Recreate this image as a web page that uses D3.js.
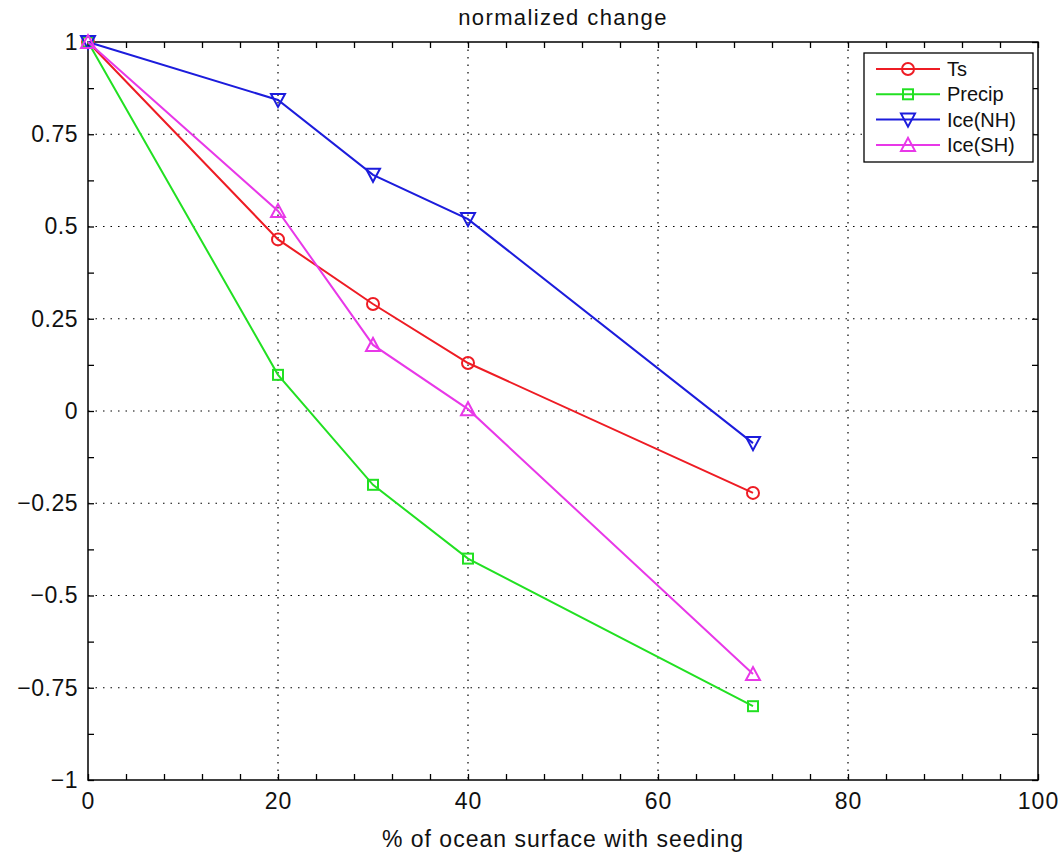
<!DOCTYPE html>
<html lang="en">
<head>
    <meta charset="utf-8">
    <title>normalized change</title>
    <script src="https://cdn.jsdelivr.net/npm/d3@7"></script>
    <style type="text/css">
        body { margin: 0; background: #fff; }
        text { font-family: "Liberation Sans", Arial, sans-serif; fill: #111; }
        .grid line { stroke: #000; stroke-dasharray: 1.5, 6; stroke-width: 1.2; }
        .series path { fill: none; stroke-width: 2; }
    </style>
</head>
<body>
    <script type="text/javascript">

        // data
        var xValues = [0, 20, 30, 40, 70];
        var tsValues = [1, 0.465, 0.29, 0.13, -0.222];
        var precipValues = [1, 0.098, -0.2, -0.40, -0.80];
        var iceNHValues = [1, 0.843, 0.64, 0.52, -0.087];
        var iceSHValues = [1, 0.542, 0.179, 0.005, -0.713];
        var seriesNames = ["Ts", "Precip", "Ice(NH)", "Ice(SH)"];
        var seriesColors = ["#ee1c24", "#22e022", "#1c1cdc", "#e838e8"];
        var seriesMarkers = ["circle", "square", "tridown", "triup"];
        var xTicks = [0, 20, 40, 60, 80, 100];
        var yTicks = [-1, -0.75, -0.5, -0.25, 0, 0.25, 0.5, 0.75, 1];
        var yTickLabels = ["\u22121", "\u22120.75", "\u22120.5", "\u22120.25", "0", "0.25", "0.5", "0.75", "1"];

        var series = [tsValues, precipValues, iceNHValues, iceSHValues];

        //Width and height
        var w = 1062;
        var h = 854;
        var pLeft = 88, pRight = 1038, pTop = 42, pBottom = 780;

        var x = d3.scaleLinear().domain([0, 100]).range([pLeft, pRight]);
        var y = d3.scaleLinear().domain([-1, 1]).range([pBottom, pTop]);

        var svg = d3.select("body")
            .append("svg")
            .attr("width", w)
            .attr("height", h);

        // dotted grid at major ticks
        var grid = svg.append("g").attr("class", "grid");
        grid.selectAll("line.gx")
            .data(xTicks.slice(1, -1))
            .enter().append("line")
            .attr("x1", function (d) { return x(d); })
            .attr("x2", function (d) { return x(d); })
            .attr("y1", pTop).attr("y2", pBottom);
        grid.selectAll("line.gy")
            .data(yTicks.slice(1, -1))
            .enter().append("line")
            .attr("y1", function (d) { return y(d); })
            .attr("y2", function (d) { return y(d); })
            .attr("x1", pLeft).attr("x2", pRight);

        // axes with inward ticks on all four sides
        var xMinor = d3.range(0, 101, 4);
        var yMinor = d3.range(-1, 1.0001, 0.125);

        function addAxis(axis, tr) {
            var g = svg.append("g")
                .attr("transform", tr)
                .call(axis);
            g.select(".domain").remove();
            g.selectAll("line").attr("stroke", "#000").attr("stroke-width", 1.3);
            return g;
        }

        addAxis(d3.axisBottom(x).tickValues(xMinor).tickSize(-6).tickFormat(""), "translate(0," + pBottom + ")");
        addAxis(d3.axisTop(x).tickValues(xMinor).tickSize(-6).tickFormat(""), "translate(0," + pTop + ")");
        addAxis(d3.axisLeft(y).tickValues(yMinor).tickSize(-6).tickFormat(""), "translate(" + pLeft + ",0)");
        addAxis(d3.axisRight(y).tickValues(yMinor).tickSize(-6).tickFormat(""), "translate(" + pRight + ",0)");

        // tick labels
        var xl = svg.append("g")
            .attr("transform", "translate(0," + pBottom + ")")
            .call(d3.axisBottom(x).tickValues(xTicks).tickSize(0).tickPadding(13));
        xl.select(".domain").remove();
        xl.selectAll("text").style("font-size", "23px").style("letter-spacing", "1px")
            .style("font-family", "Liberation Sans, Arial, sans-serif").attr("fill", "#111");

        var yl = svg.append("g")
            .attr("transform", "translate(" + pLeft + ",0)")
            .call(d3.axisLeft(y).tickValues(yTicks).tickSize(0).tickPadding(10)
                .tickFormat(function (d, i) { return yTickLabels[i]; }));
        yl.select(".domain").remove();
        yl.selectAll("text").style("font-size", "23px").style("letter-spacing", "0.5px")
            .style("font-family", "Liberation Sans, Arial, sans-serif").attr("fill", "#111");

        // frame
        svg.append("rect")
            .attr("x", pLeft).attr("y", pTop)
            .attr("width", pRight - pLeft).attr("height", pBottom - pTop)
            .attr("fill", "none").attr("stroke", "#000").attr("stroke-width", 1.5);

        // markers
        function drawMarker(g, type, cx, cy, color) {
            if (type === "circle") {
                g.append("circle").attr("cx", cx).attr("cy", cy).attr("r", 6)
                    .attr("fill", "none").attr("stroke", color).attr("stroke-width", 2);
            } else if (type === "square") {
                g.append("rect").attr("x", cx - 5).attr("y", cy - 5).attr("width", 10).attr("height", 10)
                    .attr("fill", "none").attr("stroke", color).attr("stroke-width", 2);
            } else if (type === "tridown") {
                g.append("path").attr("d", "M" + (cx - 7) + "," + (cy - 6) + "L" + (cx + 7) + "," + (cy - 6) + "L" + cx + "," + (cy + 7) + "Z")
                    .attr("fill", "none").attr("stroke", color).attr("stroke-width", 2);
            } else {
                g.append("path").attr("d", "M" + (cx - 7) + "," + (cy + 6) + "L" + (cx + 7) + "," + (cy + 6) + "L" + cx + "," + (cy - 7) + "Z")
                    .attr("fill", "none").attr("stroke", color).attr("stroke-width", 2);
            }
        }

        var line = d3.line()
            .x(function (d, i) { return x(xValues[i]); })
            .y(function (d) { return y(d); });

        series.forEach(function (vals, k) {
            var g = svg.append("g").attr("class", "series");
            g.append("path").attr("d", line(vals)).attr("stroke", seriesColors[k]);
            vals.forEach(function (v, i) {
                drawMarker(g, seriesMarkers[k], x(xValues[i]), y(v), seriesColors[k]);
            });
        });

        // legend
        var lg = svg.append("g").attr("transform", "translate(864,53)");
        lg.append("rect").attr("width", 169).attr("height", 109)
            .attr("fill", "#fff").attr("stroke", "#000").attr("stroke-width", 1.3);
        seriesNames.forEach(function (name, k) {
            var yy = 16 + k * 25.3;
            lg.append("line").attr("x1", 12).attr("x2", 76).attr("y1", yy).attr("y2", yy)
                .attr("stroke", seriesColors[k]).attr("stroke-width", 2);
            drawMarker(lg, seriesMarkers[k], 44, yy, seriesColors[k]);
            lg.append("text").attr("x", 83).attr("y", yy).attr("dy", "0.35em")
                .style("font-size", "20px").text(name);
        });

        // title and axis label
        svg.append("text").attr("x", (pLeft + pRight) / 2).attr("y", 25)
            .attr("text-anchor", "middle").style("font-size", "22px").style("letter-spacing", "1.4px")
            .text("normalized change");
        svg.append("text").attr("x", (pLeft + pRight) / 2).attr("y", 847)
            .attr("text-anchor", "middle").style("font-size", "23px").style("letter-spacing", "1px")
            .text("% of ocean surface with seeding");

    </script>
</body>
</html>
